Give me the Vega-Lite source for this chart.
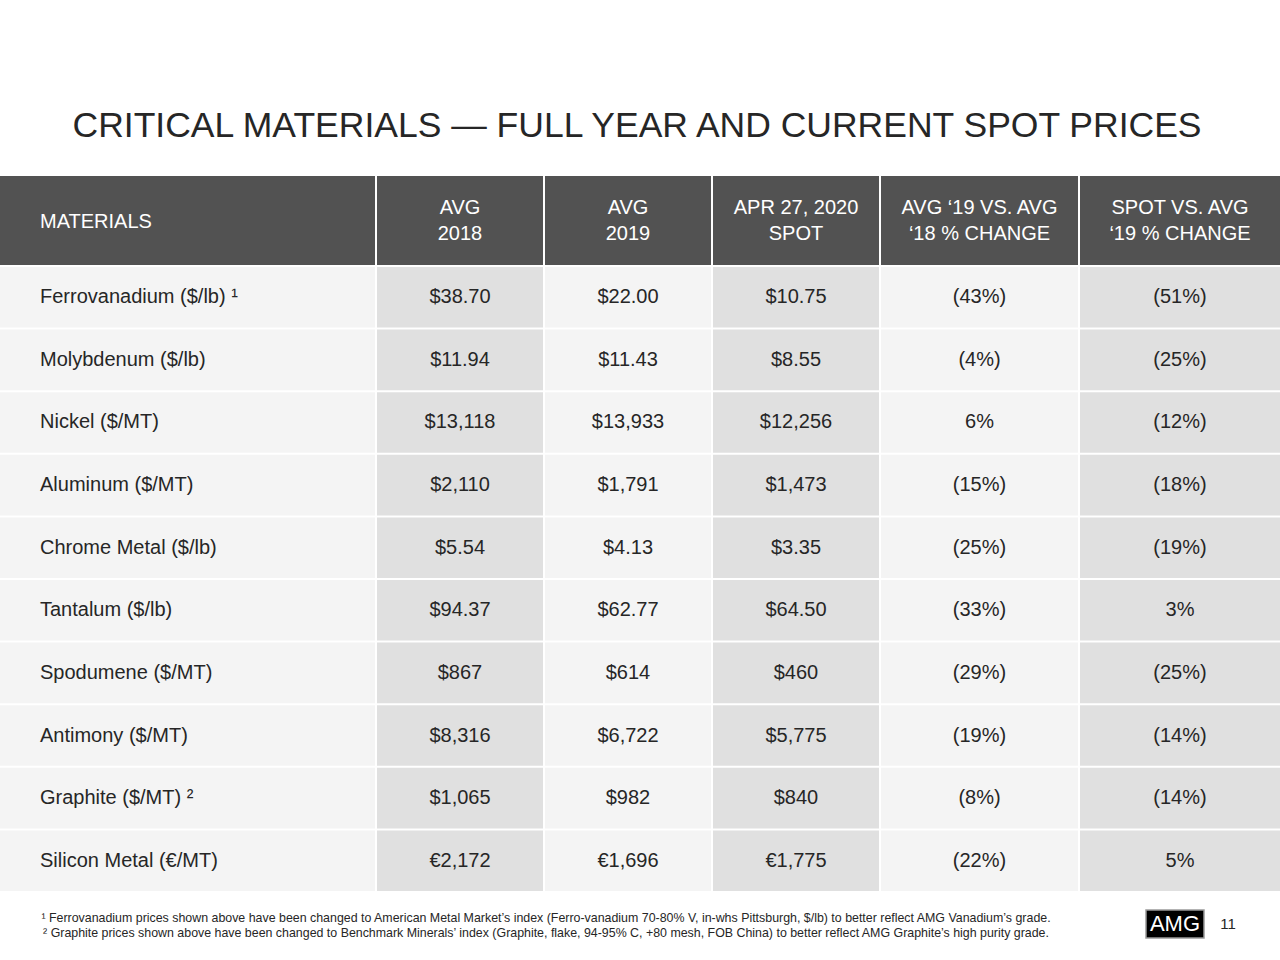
{
  "$schema": "https://vega.github.io/schema/vega-lite/v6.json",
  "background": "white",
  "padding": {"left": 0, "right": 0, "top": 109, "bottom": 0},
  "title": {"text": "CRITICAL MATERIALS — FULL YEAR AND CURRENT SPOT PRICES", "fontSize": 35.5, "font": "Liberation Sans", "fontWeight": "normal", "color": "#262626", "anchor": "middle", "offset": 31.5, "baseline": "top", "dx": -3},
  "config": {"view": {"stroke": null}, "text": {"font": "Liberation Sans"}},
  "datasets": {
    "prices": [
      {"order": 1, "material": "Ferrovanadium ($/lb) ¹", "avg2018": "$38.70", "avg2019": "$22.00", "spot": "$10.75", "chg19v18": "(43%)", "chgSpot": "(51%)"},
      {"order": 2, "material": "Molybdenum ($/lb)", "avg2018": "$11.94", "avg2019": "$11.43", "spot": "$8.55", "chg19v18": "(4%)", "chgSpot": "(25%)"},
      {"order": 3, "material": "Nickel ($/MT)", "avg2018": "$13,118", "avg2019": "$13,933", "spot": "$12,256", "chg19v18": "6%", "chgSpot": "(12%)"},
      {"order": 4, "material": "Aluminum ($/MT)", "avg2018": "$2,110", "avg2019": "$1,791", "spot": "$1,473", "chg19v18": "(15%)", "chgSpot": "(18%)"},
      {"order": 5, "material": "Chrome Metal ($/lb)", "avg2018": "$5.54", "avg2019": "$4.13", "spot": "$3.35", "chg19v18": "(25%)", "chgSpot": "(19%)"},
      {"order": 6, "material": "Tantalum ($/lb)", "avg2018": "$94.37", "avg2019": "$62.77", "spot": "$64.50", "chg19v18": "(33%)", "chgSpot": "3%"},
      {"order": 7, "material": "Spodumene ($/MT)", "avg2018": "$867", "avg2019": "$614", "spot": "$460", "chg19v18": "(29%)", "chgSpot": "(25%)"},
      {"order": 8, "material": "Antimony ($/MT)", "avg2018": "$8,316", "avg2019": "$6,722", "spot": "$5,775", "chg19v18": "(19%)", "chgSpot": "(14%)"},
      {"order": 9, "material": "Graphite ($/MT) ²", "avg2018": "$1,065", "avg2019": "$982", "spot": "$840", "chg19v18": "(8%)", "chgSpot": "(14%)"},
      {"order": 10, "material": "Silicon Metal (€/MT)", "avg2018": "€2,172", "avg2019": "€1,696", "spot": "€1,775", "chg19v18": "(22%)", "chgSpot": "5%"}
    ],
    "headers": [
      {"col": "material", "label": "MATERIALS"},
      {"col": "avg2018", "label": "AVG\n2018"},
      {"col": "avg2019", "label": "AVG\n2019"},
      {"col": "spot", "label": "APR 27, 2020\nSPOT"},
      {"col": "chg19v18", "label": "AVG ‘19 VS. AVG\n‘18 % CHANGE"},
      {"col": "chgSpot", "label": "SPOT VS. AVG\n‘19 % CHANGE"}
    ],
    "notes": [
      {"n": 1, "text": "¹ Ferrovanadium prices shown above have been changed to American Metal Market’s index (Ferro-vanadium 70-80% V, in-whs Pittsburgh, $/lb) to better reflect AMG Vanadium’s grade."},
      {"n": 2, "text": "² Graphite prices shown above have been changed to Benchmark Minerals’ index (Graphite, flake, 94-95% C, +80 mesh, FOB China) to better reflect AMG Graphite’s high purity grade."}
    ],
    "marks": [
      {"item": "logo", "text": "AMG"},
      {"item": "page", "text": "11"}
    ]
  },
  "vconcat": [
    {
      "vconcat": [
        {
          "hconcat": [
            {"width": 375, "height": 89, "view": {"fill": "#525252", "stroke": null}, "data": {"name": "headers"}, "transform": [{"filter": "datum.col == 'material'"}], "mark": {"type": "text", "color": "#ffffff", "fontSize": 20, "align": "left", "dx": -147.5, "dy": 1, "lineBreak": "\n", "lineHeight": 26}, "encoding": {"text": {"field": "label"}}},
            {"width": 166, "height": 89, "view": {"fill": "#525252", "stroke": null}, "data": {"name": "headers"}, "transform": [{"filter": "datum.col == 'avg2018'"}], "mark": {"type": "text", "color": "#ffffff", "fontSize": 20, "dy": -12.5, "lineBreak": "\n", "lineHeight": 26}, "encoding": {"text": {"field": "label"}}},
            {"width": 166, "height": 89, "view": {"fill": "#525252", "stroke": null}, "data": {"name": "headers"}, "transform": [{"filter": "datum.col == 'avg2019'"}], "mark": {"type": "text", "color": "#ffffff", "fontSize": 20, "dy": -12.5, "lineBreak": "\n", "lineHeight": 26}, "encoding": {"text": {"field": "label"}}},
            {"width": 166, "height": 89, "view": {"fill": "#525252", "stroke": null}, "data": {"name": "headers"}, "transform": [{"filter": "datum.col == 'spot'"}], "mark": {"type": "text", "color": "#ffffff", "fontSize": 20, "dy": -12.5, "lineBreak": "\n", "lineHeight": 26}, "encoding": {"text": {"field": "label"}}},
            {"width": 197, "height": 89, "view": {"fill": "#525252", "stroke": null}, "data": {"name": "headers"}, "transform": [{"filter": "datum.col == 'chg19v18'"}], "mark": {"type": "text", "color": "#ffffff", "fontSize": 20, "dy": -12.5, "lineBreak": "\n", "lineHeight": 26}, "encoding": {"text": {"field": "label"}}},
            {"width": 200, "height": 89, "view": {"fill": "#525252", "stroke": null}, "data": {"name": "headers"}, "transform": [{"filter": "datum.col == 'chgSpot'"}], "mark": {"type": "text", "color": "#ffffff", "fontSize": 20, "dy": -12.5, "lineBreak": "\n", "lineHeight": 26}, "encoding": {"text": {"field": "label"}}}
          ],
          "spacing": 2
        },
        {
          "hconcat": [
            {"width": 375, "height": 624, "data": {"name": "prices"}, "layer": [
              {"mark": {"type": "rect", "color": "#f4f4f4"}, "encoding": {"y": {"field": "order", "type": "ordinal", "axis": null, "scale": {"paddingInner": 0.032, "paddingOuter": 0}}}},
              {"mark": {"type": "text", "color": "#262626", "fontSize": 20, "align": "left", "dx": -147.5}, "encoding": {"y": {"field": "order", "type": "ordinal", "axis": null}, "text": {"field": "material"}}}
            ]},
            {"width": 166, "height": 624, "data": {"name": "prices"}, "layer": [
              {"mark": {"type": "rect", "color": "#e0e0e0"}, "encoding": {"y": {"field": "order", "type": "ordinal", "axis": null, "scale": {"paddingInner": 0.032, "paddingOuter": 0}}}},
              {"mark": {"type": "text", "color": "#262626", "fontSize": 20}, "encoding": {"y": {"field": "order", "type": "ordinal", "axis": null}, "text": {"field": "avg2018"}}}
            ]},
            {"width": 166, "height": 624, "data": {"name": "prices"}, "layer": [
              {"mark": {"type": "rect", "color": "#f4f4f4"}, "encoding": {"y": {"field": "order", "type": "ordinal", "axis": null, "scale": {"paddingInner": 0.032, "paddingOuter": 0}}}},
              {"mark": {"type": "text", "color": "#262626", "fontSize": 20}, "encoding": {"y": {"field": "order", "type": "ordinal", "axis": null}, "text": {"field": "avg2019"}}}
            ]},
            {"width": 166, "height": 624, "data": {"name": "prices"}, "layer": [
              {"mark": {"type": "rect", "color": "#e0e0e0"}, "encoding": {"y": {"field": "order", "type": "ordinal", "axis": null, "scale": {"paddingInner": 0.032, "paddingOuter": 0}}}},
              {"mark": {"type": "text", "color": "#262626", "fontSize": 20}, "encoding": {"y": {"field": "order", "type": "ordinal", "axis": null}, "text": {"field": "spot"}}}
            ]},
            {"width": 197, "height": 624, "data": {"name": "prices"}, "layer": [
              {"mark": {"type": "rect", "color": "#f4f4f4"}, "encoding": {"y": {"field": "order", "type": "ordinal", "axis": null, "scale": {"paddingInner": 0.032, "paddingOuter": 0}}}},
              {"mark": {"type": "text", "color": "#262626", "fontSize": 20}, "encoding": {"y": {"field": "order", "type": "ordinal", "axis": null}, "text": {"field": "chg19v18"}}}
            ]},
            {"width": 200, "height": 624, "data": {"name": "prices"}, "layer": [
              {"mark": {"type": "rect", "color": "#e0e0e0"}, "encoding": {"y": {"field": "order", "type": "ordinal", "axis": null, "scale": {"paddingInner": 0.032, "paddingOuter": 0}}}},
              {"mark": {"type": "text", "color": "#262626", "fontSize": 20}, "encoding": {"y": {"field": "order", "type": "ordinal", "axis": null}, "text": {"field": "chgSpot"}}}
            ]}
          ],
          "spacing": 2
        }
      ],
      "spacing": 2
    },
    {
      "hconcat": [
        {"width": 1092, "height": 30, "data": {"name": "notes"}, "mark": {"type": "text", "color": "#262626", "fontSize": 12.4}, "encoding": {"y": {"field": "n", "type": "ordinal", "axis": null}, "text": {"field": "text"}}},
        {
          "hconcat": [
            {"width": 58, "height": 28, "view": {"fill": "#000000", "stroke": "#9a9a9a", "strokeWidth": 1.5}, "data": {"name": "marks"}, "transform": [{"filter": "datum.item == 'logo'"}], "mark": {"type": "text", "color": "#ffffff", "fontSize": 22, "letterSpacing": -1.5}, "encoding": {"text": {"field": "text"}}},
            {"width": 12, "height": 28, "data": {"name": "marks"}, "transform": [{"filter": "datum.item == 'page'"}], "mark": {"type": "text", "color": "#262626", "fontSize": 15}, "encoding": {"text": {"field": "text"}}}
          ],
          "spacing": 15
        }
      ],
      "spacing": 53
    }
  ],
  "spacing": 18
}
